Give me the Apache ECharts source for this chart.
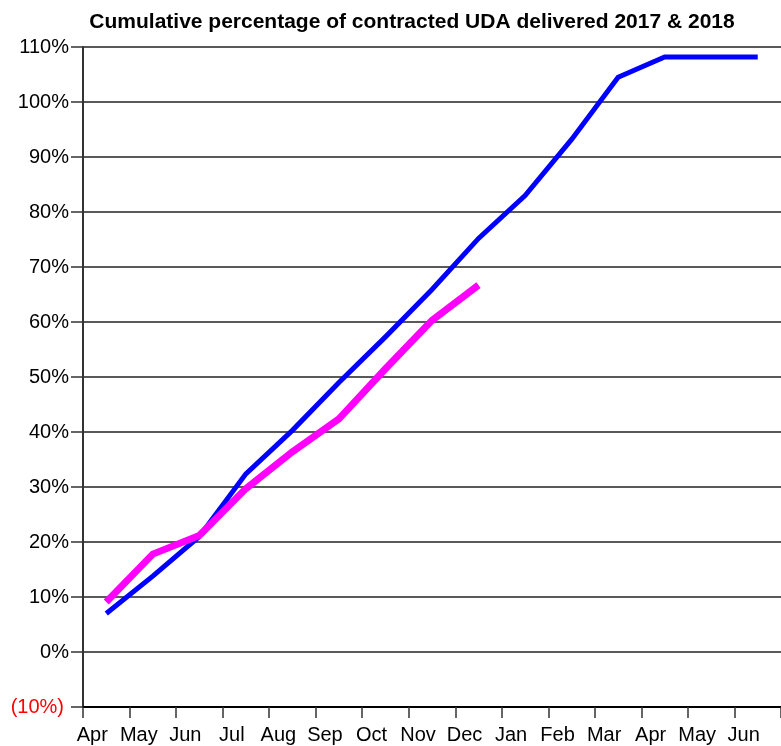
<!DOCTYPE html>
<html>
<head>
<meta charset="utf-8">
<script src="https://cdn.jsdelivr.net/npm/echarts@6/dist/echarts.min.js"></script>
<style>
  html, body { margin: 0; padding: 0; background: #fff; }
  #chart { width: 781px; height: 746px; }
</style>
</head>
<body>
<div id="chart"></div>
<script>
// months Apr 2017 .. Jun 2018
const months = ['Apr', 'May', 'Jun', 'Jul', 'Aug', 'Sep', 'Oct', 'Nov', 'Dec', 'Jan', 'Feb', 'Mar', 'Apr', 'May', 'Jun'];
// cumulative % delivered, previous year (blue)
const blueValues = [7.0, 13.8, 21.0, 32.4, 40.3, 49.0, 57.3, 65.9, 75.2, 83.0, 93.2, 104.5, 108.2, 108.2, 108.2];
// cumulative % delivered, current year (magenta)
const magentaValues = [9.1, 17.8, 21.2, 29.7, 36.4, 42.4, 51.5, 60.3, 66.7];

const chart = echarts.init(document.getElementById('chart'));

const option = {
  animation: false,
  title: {
    text: 'Cumulative percentage of contracted UDA delivered 2017 & 2018',
    left: 407,
    textAlign: 'center',
    top: 7,
    textStyle: {
      fontFamily: 'Liberation Sans',
      fontWeight: 'bold',
      fontSize: 21,
      color: '#000'
    }
  },
  grid: { left: 83, right: 0, top: 47, bottom: 39, containLabel: false },
  xAxis: {
    type: 'category',
    data: months,
    boundaryGap: true,
    axisLine: { onZero: false, lineStyle: { color: '#000', width: 2 } },
    axisTick: { show: true, length: 11, lineStyle: { color: '#333', width: 1.5 } },
    axisLabel: {
      interval: 0,
      margin: 18,
      padding: [0, 28, 0, 0],
      color: '#000',
      fontFamily: 'Liberation Sans',
      fontSize: 20
    },
    splitLine: { show: false }
  },
  yAxis: {
    type: 'value',
    min: -10,
    max: 110,
    interval: 10,
    axisLine: { show: true, lineStyle: { color: '#333', width: 2 } },
    axisTick: { show: true, length: 12, lineStyle: { color: '#333', width: 1.5 } },
    axisLabel: {
      margin: 14,
      fontFamily: 'Liberation Sans',
      fontSize: 20,
      formatter: function (v) {
        return v < 0 ? '{neg|(' + Math.abs(v) + '%)}' : v + '%';
      },
      color: '#000',
      rich: { neg: { color: '#ff0000', fontFamily: 'Liberation Sans', fontSize: 20, padding: [0, 5, 0, 0] } }
    },
    splitLine: { show: true, lineStyle: { color: '#222', width: 1.5 } }
  },
  series: [
    {
      name: '2017',
      type: 'line',
      data: blueValues,
      symbol: 'none',
      z: 2,
      lineStyle: { color: '#0000ff', width: 5, cap: 'butt', join: 'miter' }
    },
    {
      name: '2018',
      type: 'line',
      data: magentaValues,
      symbol: 'none',
      z: 3,
      lineStyle: { color: '#ff00ff', width: 7, cap: 'butt', join: 'miter' }
    }
  ]
};

chart.setOption(option);
</script>
</body>
</html>
